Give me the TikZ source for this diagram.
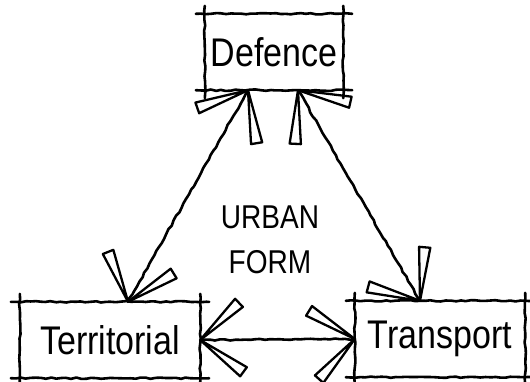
\documentclass[tikz,border=0pt]{standalone}
\usepackage{fontspec}
\setmainfont{Liberation Sans}[FakeStretch=0.85]
\usetikzlibrary{decorations.pathmorphing,decorations.markings}

\tikzset{
  sketch/.style={line width=2.6pt, line cap=round, line join=round,
    decorate, decoration={random steps, segment length=5pt, amplitude=0.7pt}},
  block/.style={minimum width=#1, minimum height=76pt, inner sep=0pt,
    font=\fontsize{40}{44}\selectfont},
  barbs/.pic={
    \draw[line width=2.3pt, line join=round]
      (0pt,0pt) -- (134:54pt) -- (146:54pt) -- cycle
      (0pt,0pt) -- (-134:54pt) -- (-146:54pt) -- cycle;
  },
  twoway/.style={postaction={decorate, decoration={markings,
      mark=at position 0 with {\pic[transform shape, rotate=180]{barbs};},
      mark=at position 1 with {\pic[transform shape]{barbs};}}}}
}

\begin{document}
\pgfmathsetseed{7}
\begin{tikzpicture}[x=1pt, y=-1pt]
        \useasboundingbox (0,0) rectangle (530,381);

        % The three boxes
        \node[block=138pt] (def) at (274,52) {Defence};
        \node[block=180pt] (terr) at (110,340) {Territorial};
        \node[block=170pt] (trans) at (440,339) {Transport};
        \foreach \n in {def,terr,trans}{
          \draw[sketch] ([xshift=-9pt]\n.north west) -- ([xshift=9pt]\n.north east);
          \draw[sketch] ([xshift=-9pt]\n.south west) -- ([xshift=9pt]\n.south east);
          \draw[sketch] ([yshift=8pt]\n.north west) -- ([yshift=-8pt]\n.south west);
          \draw[sketch] ([yshift=8pt]\n.north east) -- ([yshift=-8pt]\n.south east);
        }

        % Text in the middle
        \node[align=center, font=\fontsize{33}{45}\selectfont] (form) at (270,240) {URBAN\\FORM};

        % Two-way links
        \draw[sketch, twoway] ([xshift=-26pt]def.south) -- ([xshift=18pt]terr.north);
        \draw[sketch, twoway] ([xshift=24pt]def.south) -- ([xshift=-20pt]trans.north);
        \draw[sketch, twoway] (terr.east) -- (trans.west);
\end{tikzpicture}
\end{document}
